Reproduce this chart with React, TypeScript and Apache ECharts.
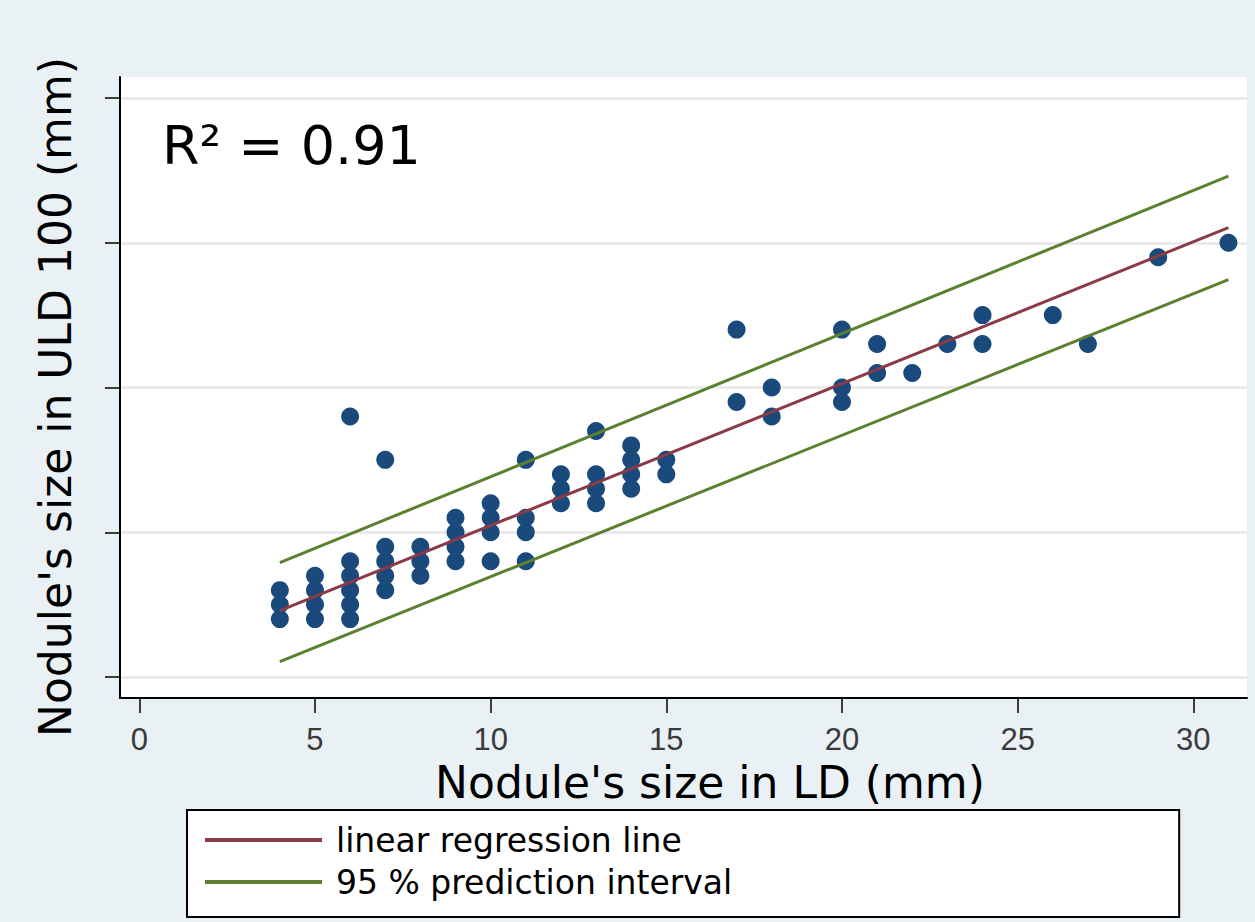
import React, { useEffect, useRef } from "react";
import * as echarts from "echarts";

// Scatter data: nodule size in LD (x) vs ULD 100 (y), mm
const ldSize = [
  4, 4, 4,
  5, 5, 5, 5,
  6, 6, 6, 6, 6, 6,
  7, 7, 7, 7, 7,
  8, 8, 8,
  9, 9, 9, 9,
  10, 10, 10, 10,
  11, 11, 11, 11,
  12, 12, 12,
  13, 13, 13, 13,
  14, 14, 14, 14,
  15, 15,
  17, 17,
  18, 18,
  20, 20, 20,
  21, 21,
  22,
  23,
  24, 24,
  26,
  27,
  29,
  31,
];
const uldSize = [
  4, 5, 6,
  4, 5, 6, 7,
  4, 5, 6, 7, 8, 18,
  6, 7, 8, 9, 15,
  7, 8, 9,
  8, 9, 10, 11,
  8, 10, 11, 12,
  8, 10, 11, 15,
  12, 13, 14,
  12, 13, 14, 17,
  13, 14, 15, 16,
  14, 15,
  19, 24,
  18, 20,
  19, 20, 24,
  21, 23,
  21,
  23,
  23, 25,
  25,
  23,
  29,
  30,
];

// Regression line and 95% prediction interval (end points)
const fitX = [4, 31];
const fitY = [4.58, 31.05];
const upperY = [7.9, 34.6];
const lowerY = [1.06, 27.45];

const legendNames = ["linear regression line", "95 % prediction interval"];
const xTitle = "Nodule's size in LD (mm)";
const yTitle = "Nodule's size in ULD 100 (mm)";
const r2Text = "R² = 0.91";

export default function App() {
  const ref = useRef<HTMLDivElement>(null);

  useEffect(() => {
    if (!ref.current) return;
    const chart = echarts.init(ref.current, undefined, { renderer: "svg" });
    const font = "DejaVu Sans";
    const blackLine = { color: "#000", width: 2 };

    const option: any = {
      animation: false,
      backgroundColor: "#EAF1F5",
      grid: [
        { left: 120, top: 77, width: 1127, height: 621, show: true, backgroundColor: "#ffffff", borderWidth: 0 },
        { left: 120, top: 98, width: 1127, height: 579, show: false },
        { left: 139.3, top: 98, width: 1054, height: 579, show: false },
      ],
      xAxis: [
        {
          gridIndex: 0, type: "value", min: 0, max: 1,
          axisLine: { show: true, onZero: false, lineStyle: blackLine },
          axisTick: { show: false }, axisLabel: { show: false }, splitLine: { show: false },
        },
        // data x scale over the full plot width (same px/unit as the tick axis)
        { gridIndex: 1, type: "value", min: -0.5495, max: 31.528, show: false },
        {
          gridIndex: 2, type: "value", min: 0, max: 30, interval: 5, offset: 21,
          axisLine: { show: false, onZero: false },
          axisTick: { show: true, length: 15, lineStyle: { color: "#000", width: 1.5 } },
          axisLabel: { margin: 27, fontSize: 31, lineHeight: 28, color: "#3a3a3a", fontFamily: "Liberation Sans" },
          splitLine: { show: false },
        },
      ],
      yAxis: [
        {
          gridIndex: 0, type: "value", min: 0, max: 1,
          axisLine: { show: true, onZero: false, lineStyle: blackLine },
          axisTick: { show: false }, axisLabel: { show: false }, splitLine: { show: false },
        },
        {
          gridIndex: 1, type: "value", min: 0, max: 40, interval: 10,
          axisLine: { show: false, onZero: false },
          axisTick: { show: true, length: 15, lineStyle: { color: "#000", width: 1.5 } },
          axisLabel: { show: false },
          splitLine: { show: true, lineStyle: { color: "#EBEBEB", width: 3 } },
        },
        { gridIndex: 2, type: "value", min: 0, max: 40, show: false },
      ],
      legend: {
        left: 187, top: 810, orient: "vertical",
        data: legendNames,
        icon: "rect", itemWidth: 117, itemHeight: 4, itemGap: 4,
        padding: [11, 447, 16, 18],
        borderColor: "#000", borderWidth: 2, backgroundColor: "#fff", borderRadius: 0,
        selectedMode: false,
        textStyle: { fontSize: 33, fontFamily: font, color: "#000", lineHeight: 38, padding: [0, 0, 0, 9] },
      },
      graphic: [
        {
          type: "text", x: 55, y: 397, rotation: Math.PI / 2,
          style: { text: yTitle, fontSize: 44, fontFamily: font, fill: "#000", align: "center", verticalAlign: "middle" },
        },
        {
          type: "text", x: 710, y: 782,
          style: { text: xTitle, fontSize: 44, lineHeight: 42, fontFamily: font, fill: "#000", align: "center", verticalAlign: "middle" },
        },
        {
          type: "text", x: 162, y: 145,
          style: { text: r2Text, fontSize: 54, fontFamily: font, fill: "#000", align: "left", verticalAlign: "middle" },
        },
      ],
      series: [
        {
          type: "scatter", xAxisIndex: 1, yAxisIndex: 1, clip: false,
          data: ldSize.map((x, i) => [x, uldSize[i]]),
          symbolSize: 18, itemStyle: { color: "#1A4A7B", opacity: 1 },
        },
        {
          name: legendNames[0], type: "line", xAxisIndex: 1, yAxisIndex: 1, clip: false,
          data: fitX.map((x, i) => [x, fitY[i]]), symbol: "none",
          color: "#8B3A48", lineStyle: { color: "#8B3A48", width: 3 },
        },
        {
          name: legendNames[1], type: "line", xAxisIndex: 1, yAxisIndex: 1, clip: false,
          data: fitX.map((x, i) => [x, upperY[i]]), symbol: "none",
          color: "#5C8030", lineStyle: { color: "#5C8030", width: 3 },
        },
        {
          name: legendNames[1], type: "line", xAxisIndex: 1, yAxisIndex: 1, clip: false,
          data: fitX.map((x, i) => [x, lowerY[i]]), symbol: "none",
          color: "#5C8030", lineStyle: { color: "#5C8030", width: 3 },
        },
      ],
    };

    chart.setOption(option);
    return () => chart.dispose();
  }, []);

  return (
    <div
      ref={ref}
      style={{ position: "fixed", left: 0, top: 0, width: 1255, height: 922 }}
    />
  );
}
